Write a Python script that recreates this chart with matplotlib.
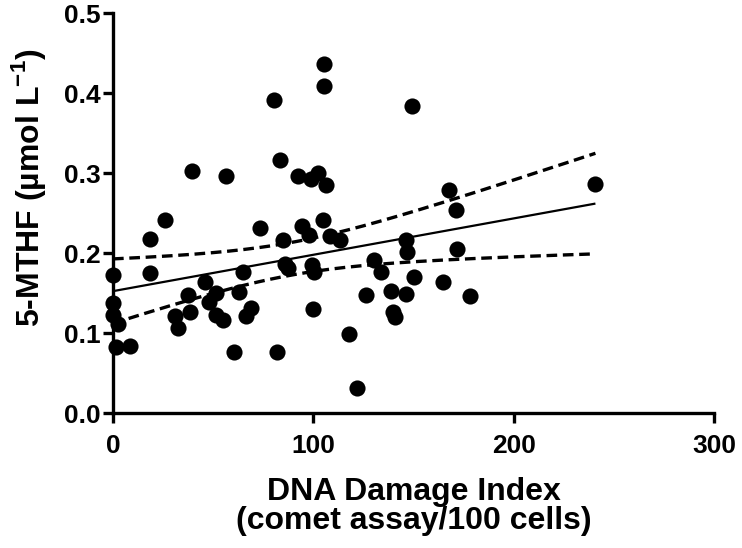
import matplotlib
matplotlib.use("Agg")
import matplotlib.pyplot as plt
import numpy as np

plt.rcParams['font.family'] = ['Liberation Sans', 'DejaVu Sans']
plt.rcParams['font.weight'] = 'bold'
plt.rcParams['mathtext.fontset'] = 'custom'
plt.rcParams['mathtext.rm'] = 'Liberation Sans:bold'
plt.rcParams['mathtext.bf'] = 'Liberation Sans:bold'

# DNA damage index (comet assay / 100 cells) vs 5-MTHF (umol/L)
damage = [105.5, 105.5, 80.3, 149.2, 83.3, 39.3, 56.3, 92.4, 98.7, 102.5,
          106.5, 26.2, 104.8, 18.3, 73.5, 94.5, 97.9, 84.9, 108.2, 113.1,
          0.0, 18.3, 65.0, 87.1, 86.0, 99.5, 100.3, 130.2, 134.0, 146.2,
          146.8, 150.1, 167.9, 171.1, 171.6, 240.8, 164.7, 178.0, 146.0, 139.0,
          126.1, 140.0, 141.0, 99.8, 117.8, 121.9, 82.1, 60.2, 46.1, 37.3,
          63.0, 51.4, 48.1, 38.2, 68.9, 66.4, 51.4, 54.7, 30.7, 32.3,
          0.0, 0.0, 2.5, 1.7, 8.3]
mthf = [0.437, 0.409, 0.392, 0.384, 0.316, 0.303, 0.296, 0.297, 0.2925, 0.300,
        0.285, 0.242, 0.242, 0.218, 0.232, 0.234, 0.223, 0.216, 0.221, 0.216,
        0.173, 0.175, 0.176, 0.181, 0.186, 0.185, 0.177, 0.192, 0.177, 0.217,
        0.202, 0.170, 0.279, 0.254, 0.205, 0.286, 0.164, 0.147, 0.149, 0.153,
        0.148, 0.127, 0.120, 0.130, 0.099, 0.032, 0.076, 0.076, 0.1645, 0.148,
        0.152, 0.150, 0.139, 0.126, 0.131, 0.121, 0.123, 0.116, 0.121, 0.106,
        0.1375, 0.123, 0.112, 0.083, 0.084]

x = np.array(damage)
y = np.array(mthf)

# linear regression with 95% confidence band
slope, intercept = np.polyfit(x, y, 1)
n = len(x)
resid = y - (slope * x + intercept)
s = np.sqrt(np.sum(resid ** 2) / (n - 2))
t = 1.997
xs = np.linspace(x.min(), x.max(), 200)
fit = slope * xs + intercept
half = t * s * np.sqrt(1 / n + (xs - x.mean()) ** 2 / np.sum((x - x.mean()) ** 2))

fig = plt.figure(figsize=(7.42, 5.48), dpi=100)
ax = fig.add_axes([0.1523, 0.2458, 0.81, 0.73])

ax.plot(xs, fit, color='black', lw=1.6, solid_capstyle='butt')
ax.plot(xs, fit + half, color='black', lw=2.4, dashes=(3.2, 1.7))
ax.plot(xs, fit - half, color='black', lw=2.4, dashes=(3.2, 1.7))
ax.scatter(x, y, s=135, color='black', zorder=3, clip_on=False, linewidths=0)

ax.set_xlim(0, 300)
ax.set_ylim(0, 0.5)
ax.set_xticks([0, 100, 200, 300])
ax.set_yticks([0.0, 0.1, 0.2, 0.3, 0.4, 0.5])
ax.set_yticklabels(['0.0', '0.1', '0.2', '0.3', '0.4', '0.5'])

for side in ['top', 'right']:
    ax.spines[side].set_visible(False)
for side in ['left', 'bottom']:
    ax.spines[side].set_linewidth(2.4)
ax.tick_params(width=2.4, length=7, labelsize=19)
ax.tick_params(axis='x', pad=8)
ax.tick_params(axis='y', pad=2)

ax.set_xlabel("DNA Damage Index\n(comet assay/100 cells)", fontsize=23, fontweight='bold',
              linespacing=0.95)
ax.xaxis.set_label_coords(0.5, -0.16)
ax.set_ylabel(r"5-MTHF (µmol L$^{\mathbf{-1}}$)", fontsize=23, fontweight='bold')
ax.yaxis.set_label_coords(-0.108, 0.565)

fig.savefig("out.png", dpi=100)
